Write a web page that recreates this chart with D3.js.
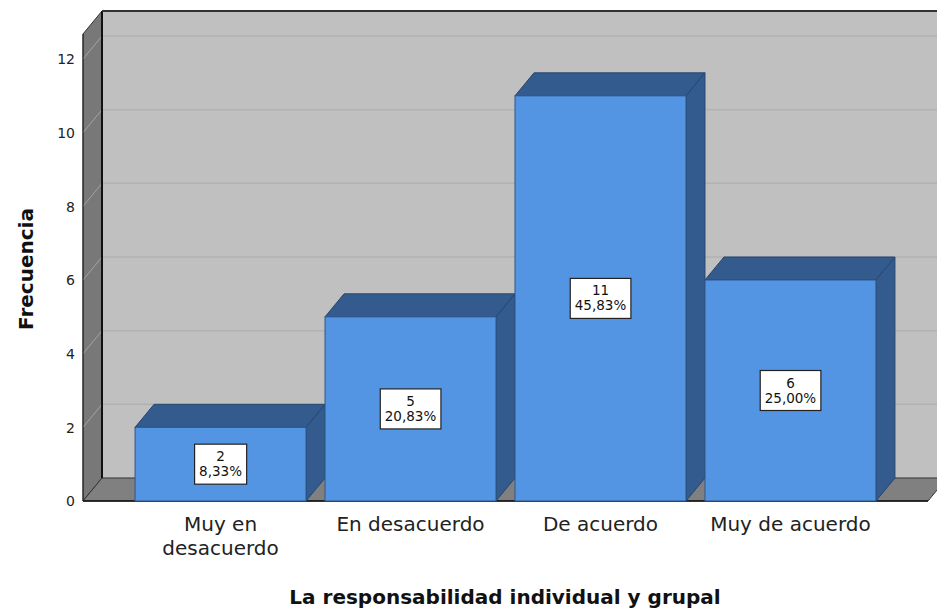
<!DOCTYPE html>
<html>
<head>
<meta charset="utf-8">
<script src="https://cdn.jsdelivr.net/npm/d3@7"></script>
<style>
  body { margin: 0; background: #fff; }
  text { font-family: "DejaVu Sans", "Liberation Sans", Arial, sans-serif; }
</style>
</head>
<body>
<div id="chart"></div>
<script>
// data
var categories = ["Muy en desacuerdo", "En desacuerdo", "De acuerdo", "Muy de acuerdo"];
var catLines = [["Muy en", "desacuerdo"], ["En desacuerdo"], ["De acuerdo"], ["Muy de acuerdo"]];
var counts = [2, 5, 11, 6];
var percents = [8.33, 20.83, 45.83, 25.00];
var yTicks = [0, 2, 4, 6, 8, 10, 12];

var width = 937, height = 608;
var dx = 19, dy = -23;          // depth offset of the 3d box
var plotLeft = 83, plotRight = 928, plotBottom = 501, plotTop = 34;

var svg = d3.select("#chart").append("svg")
    .attr("width", width)
    .attr("height", height);

var x = d3.scaleBand()
    .domain(categories)
    .range([plotLeft, plotRight])
    .paddingInner(0.1)
    .paddingOuter(0.274);

var y = d3.scaleLinear()
    .domain([0, 12])
    .range([plotBottom, 59]);

function pts(a) { return a.map(function(p){ return p.join(","); }).join(" "); }

// back wall
svg.append("polygon")
    .attr("points", pts([[plotLeft+dx, plotTop+dy], [width+5, plotTop+dy], [width+5, plotBottom+dy], [plotLeft+dx, plotBottom+dy]]))
    .attr("fill", "#c0c0c0");

// side wall
svg.append("polygon")
    .attr("points", pts([[plotLeft, plotTop], [plotLeft+dx, plotTop+dy], [plotLeft+dx, plotBottom+dy], [plotLeft, plotBottom]]))
    .attr("fill", "#787878")
    .attr("stroke", "#333")
    .attr("stroke-width", 1);

// floor
svg.append("polygon")
    .attr("points", pts([[plotLeft, plotBottom], [plotRight, plotBottom], [plotRight+dx, plotBottom+dy], [plotLeft+dx, plotBottom+dy]]))
    .attr("fill", "#808080")
    .attr("stroke", "#333")
    .attr("stroke-width", 1);

// grid lines
yTicks.filter(function(d){ return d > 0; }).forEach(function(t) {
    svg.append("line")
        .attr("x1", plotLeft+dx).attr("x2", width)
        .attr("y1", y(t)+dy).attr("y2", y(t)+dy)
        .attr("stroke", "#b2b2b2").attr("stroke-width", 1.5);
    svg.append("line")
        .attr("x1", plotLeft).attr("x2", plotLeft+dx)
        .attr("y1", y(t)).attr("y2", y(t)+dy)
        .attr("stroke", "#a4a4a4").attr("stroke-width", 1);
});

// wall edges
svg.append("line")
    .attr("x1", plotLeft+dx).attr("x2", plotLeft+dx)
    .attr("y1", plotTop+dy).attr("y2", plotBottom+dy)
    .attr("stroke", "#111").attr("stroke-width", 2);
svg.append("line")
    .attr("x1", plotLeft+dx).attr("x2", width)
    .attr("y1", plotTop+dy).attr("y2", plotTop+dy)
    .attr("stroke", "#333").attr("stroke-width", 2);
svg.append("line")
    .attr("x1", plotLeft).attr("x2", plotRight)
    .attr("y1", plotBottom).attr("y2", plotBottom)
    .attr("stroke", "#111").attr("stroke-width", 1.5);
svg.append("line")
    .attr("x1", plotLeft).attr("x2", plotLeft)
    .attr("y1", plotTop).attr("y2", plotBottom)
    .attr("stroke", "#222").attr("stroke-width", 1);

// y tick labels
svg.selectAll(".ytick")
    .data(yTicks)
    .enter().append("text")
    .attr("class", "ytick")
    .attr("x", plotLeft-8)
    .attr("y", function(d){ return y(d); })
    .attr("dy", "0.38em")
    .attr("text-anchor", "end")
    .style("font-size", "14px")
    .attr("fill", "#222")
    .text(function(d){ return d; });

// bars
var bar = svg.selectAll(".bar")
    .data(categories)
    .enter().append("g")
    .attr("class", "bar");

var bw = x.bandwidth();

bar.append("polygon")   // top face
    .attr("points", function(d, i) {
        var x0 = x(d), y0 = y(counts[i]);
        return pts([[x0, y0], [x0+bw, y0], [x0+bw+dx, y0+dy], [x0+dx, y0+dy]]);
    })
    .attr("fill", "#335b8e")
    .attr("stroke", "#27476f").attr("stroke-width", 1);

bar.append("polygon")   // side face
    .attr("points", function(d, i) {
        var x1 = x(d)+bw, y0 = y(counts[i]);
        return pts([[x1, y0], [x1+dx, y0+dy], [x1+dx, plotBottom+dy], [x1, plotBottom]]);
    })
    .attr("fill", "#335b8e")
    .attr("stroke", "#27476f").attr("stroke-width", 1);

bar.append("rect")      // front face
    .attr("x", function(d){ return x(d); })
    .attr("y", function(d, i){ return y(counts[i]); })
    .attr("width", bw)
    .attr("height", function(d, i){ return plotBottom - y(counts[i]); })
    .attr("fill", "#5495e3")
    .attr("stroke", "#2f5687").attr("stroke-width", 1);

// value labels
bar.each(function(d, i) {
    var g = d3.select(this);
    var cx = x(d) + bw/2;
    var cy = (y(counts[i]) + plotBottom) / 2;
    var lab = g.append("g");
    var rect = lab.append("rect");
    var t = lab.append("text")
        .attr("text-anchor", "middle")
        .style("font-size", "13.5px")
        .attr("fill", "#111");
    t.append("tspan").attr("x", cx).attr("y", cy - 3).text(counts[i]);
    t.append("tspan").attr("x", cx).attr("y", cy + 12)
        .text(percents[i].toFixed(2).replace(".", ",") + "%");
    var bb = t.node().getBBox();
    rect.attr("x", bb.x - 4.5).attr("y", bb.y - 4)
        .attr("width", bb.width + 9).attr("height", bb.height + 9)
        .attr("fill", "#fff")
        .attr("stroke", "#222").attr("stroke-width", 1.2);
});

// category labels
svg.selectAll(".xlab")
    .data(categories)
    .enter().append("text")
    .attr("class", "xlab")
    .attr("text-anchor", "middle")
    .style("font-size", "20px")
    .attr("fill", "#222")
    .each(function(d, i) {
        var t = d3.select(this);
        catLines[i].forEach(function(line, j) {
            t.append("tspan")
                .attr("x", x(d) + bw/2)
                .attr("y", 531 + j*24)
                .text(line);
        });
    });

// axis titles
svg.append("text")
    .attr("x", 505).attr("y", 604)
    .attr("text-anchor", "middle")
    .style("font-size", "20px")
    .style("font-weight", "bold")
    .attr("fill", "#111")
    .text("La responsabilidad individual y grupal");

svg.append("text")
    .attr("transform", "translate(33,269) rotate(-90)")
    .attr("text-anchor", "middle")
    .style("font-size", "20px")
    .style("font-weight", "bold")
    .attr("fill", "#111")
    .text("Frecuencia");
</script>
</body>
</html>
